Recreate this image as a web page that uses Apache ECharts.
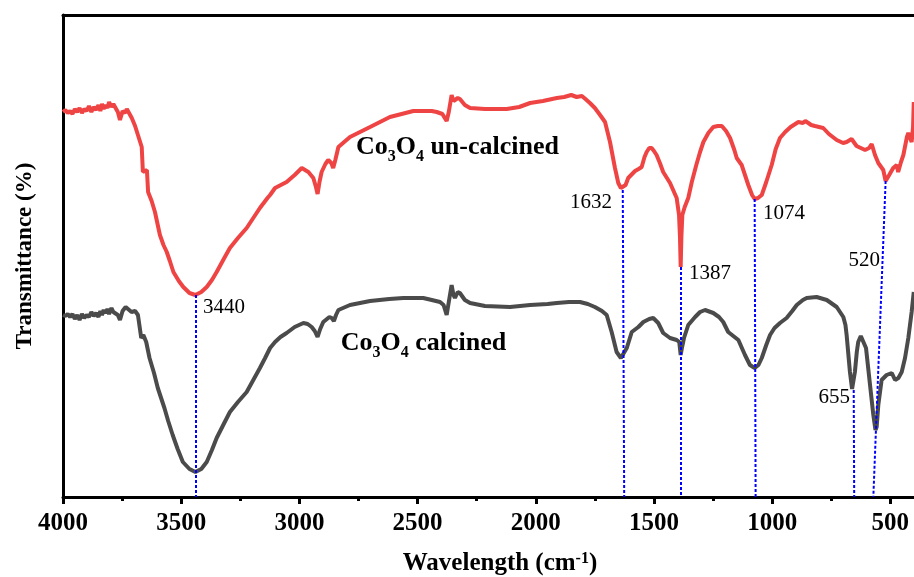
<!DOCTYPE html>
<html>
<head>
<meta charset="utf-8">
<script src="https://cdn.jsdelivr.net/npm/echarts@6/dist/echarts.min.js"></script>
<style>html,body{margin:0;padding:0;background:#fff}#c{width:914px;height:577px}</style>
</head>
<body>
<div id="c"></div>
<script>
// ---- data ----
const majorTicks = [4000, 3500, 3000, 2500, 2000, 1500, 1000, 500];
const minorTicks = [3750, 3250, 2750, 2250, 1750, 1250, 750];

const uncalcined = [
[4000,385],[3990,387],[3980,384],[3970,386],[3960,383],[3950,388],[3940,385],[3930,389],[3920,384],[3910,388],
[3900,386],[3890,391],[3880,385],[3870,390],[3860,387],[3850,392],[3842,386],[3835,393],[3828,388],[3820,392],
[3812,389],[3805,395],[3795,390],[3787,393],[3780,391],[3768,385],[3759,377],[3748,386],[3738,384],[3730,388],
[3709,379],[3695,371],[3683,362],[3667,350],[3662,325],[3645,327],[3640,305],[3625,296],[3611,285],[3590,262],
[3575,252],[3561,245],[3548,236],[3533,225],[3510,216],[3491,210],[3465,204],[3440,202],[3415,205],[3392,210],
[3370,217],[3350,225],[3320,238],[3294,249],[3260,259],[3223,269],[3195,279],[3167,289],[3135,299],[3124,302],
[3103,309],[3054,315],[3020,322],[2990,329],[2962,325],[2941,319],[2930,310],[2923,303],[2915,315],[2906,325],
[2890,333],[2878,337],[2865,334],[2857,329],[2848,337],[2835,350],[2786,360],[2701,370],[2617,380],[2518,386],
[2440,386],[2419,385],[2395,383],[2385,379],[2377,376],[2368,385],[2356,402],[2348,396],[2342,394],[2330,399],
[2321,398],[2300,392],[2278,389],[2215,388],[2123,388],[2070,390],[2024,394],[1970,396],[1911,399],[1880,400],
[1850,402],[1827,400],[1805,401],[1790,398],[1771,394],[1750,389],[1728,382],[1707,375],[1686,355],[1665,329],
[1651,314],[1640,309],[1632,307],[1620,312],[1609,319],[1580,326],[1565,328],[1552,330],[1540,340],[1531,345],
[1520,349],[1510,349],[1500,346],[1489,342],[1475,334],[1461,325],[1432,314],[1404,299],[1394,282],[1390,260],
[1387,230],[1384,260],[1380,282],[1370,290],[1355,299],[1340,315],[1321,332],[1305,345],[1291,355],[1270,364],
[1249,370],[1230,371],[1213,371],[1195,366],[1178,359],[1160,347],[1150,339],[1129,332],[1115,322],[1101,312],
[1085,302],[1074,298],[1060,299],[1044,302],[1025,315],[1002,332],[985,348],[967,359],[945,365],[922,370],
[889,375],[870,374],[860,376],[847,374],[835,372],[819,371],[784,369],[760,363],[727,357],[700,354],
[685,355],[664,358],[652,354],[643,351],[625,349],[607,347],[590,349],[579,353],[565,342],[551,334],
[530,327],[520,316],[505,322],[488,329],[473,332],[467,325],[455,335],[445,342],[430,360],[424,364],
[416,362],[410,355],[404,370],[401,395]
];

const calcined = [
[4000,182],[3990,181],[3980,183],[3970,180],[3960,183],[3950,178],[3940,182],[3930,177],[3920,183],[3910,179],
[3900,182],[3890,180],[3880,185],[3870,181],[3860,184],[3850,180],[3842,186],[3835,182],[3828,187],[3820,184],
[3812,188],[3805,183],[3795,189],[3787,185],[3780,187],[3768,182],[3759,177],[3748,186],[3735,190],[3725,188],
[3710,185],[3695,186],[3683,182],[3669,159],[3660,162],[3648,155],[3634,139],[3615,124],[3599,109],
[3585,99],[3571,89],[3555,76],[3536,62],[3515,48],[3493,35],[3465,28],[3440,25],[3415,28],[3392,35],
[3370,47],[3350,59],[3320,73],[3294,85],[3260,95],[3223,105],[3195,117],[3167,129],[3145,139],[3124,149],
[3103,155],[3080,160],[3054,164],[3020,170],[2983,174],[2965,173],[2948,170],[2935,166],[2923,160],[2912,168],
[2899,175],[2873,180],[2863,179],[2854,176],[2845,182],[2835,187],[2786,192],[2701,196],[2620,198],[2560,199],
[2476,199],[2440,197],[2405,195],[2390,192],[2377,182],[2368,195],[2356,212],[2348,202],[2342,199],[2330,205],
[2321,204],[2300,197],[2278,194],[2215,191],[2109,190],[2024,192],[1950,193],[1911,194],[1860,195],[1813,195],
[1780,193],[1750,190],[1720,186],[1700,182],[1679,165],[1658,145],[1640,139],[1632,138],[1615,149],[1594,165],
[1566,170],[1545,175],[1520,178],[1503,179],[1482,174],[1461,164],[1432,159],[1404,157],[1393,155],[1387,142],
[1381,150],[1373,159],[1355,172],[1326,180],[1305,185],[1284,187],[1249,184],[1225,180],[1207,175],[1186,165],
[1143,157],[1115,142],[1094,132],[1074,129],[1058,132],[1044,139],[1025,152],[1009,162],[990,169],[967,174],
[939,179],[915,186],[896,192],[870,197],[854,199],[812,200],[769,197],[727,190],[699,180],[690,172],
[685,162],[671,125],[662,108],[655,107],[650,125],[642,145],[636,155],[625,161],[619,160],[603,149],
[586,112],[572,82],[563,67],[558,70],[551,92],[537,117],[516,122],[494,124],[480,117],[466,119],
[452,125],[438,139],[424,159],[410,185],[401,205]
];

const peakNames = ['3440', '1632', '1387', '1074', '655', '520'];
const peakTop = [[3440,202],[1632,307],[1387,230],[1074,298],[655,107],[520,316]];
const peakBottom = [[3440,0],[1626,0],[1387,0],[1070,0],[653,0],[572,0]];

// ---- layout (data-coordinate anchors for text) ----
const peakLabelAnchor = [[3408,189.5,'left'],[1678,295,'right'],[1352,223.5,'left'],[1039,283.5,'left'],[671,99.5,'right'],[544,237,'right']];
const seriesLabelAnchor = {uncalcined:[2761,362.6], calcined:[2825,166.6]};

const SERIF = "'Liberation Serif','Times New Roman',serif";
const richName = {
  m: {fontFamily: SERIF, fontWeight: 'bold', fontSize: 26, lineHeight: 26, verticalAlign: 'top', color: '#000'},
  s: {fontFamily: SERIF, fontWeight: 'bold', fontSize: 16, lineHeight: 16, verticalAlign: 'top', padding: [14,0,0,0], color: '#000'}
};

const chart = echarts.init(document.getElementById('c'), null, {renderer: 'canvas'});

const markLines = peakTop.map((p, i) => [{coord: p}, {coord: peakBottom[i]}]);
const peakPoints = peakNames.map((n, i) => ({
  coord: [peakLabelAnchor[i][0], peakLabelAnchor[i][1]],
  symbol: 'circle', symbolSize: 0,
  label: {show: true, formatter: n, position: 'inside', align: peakLabelAnchor[i][2], verticalAlign: 'middle',
    fontFamily: SERIF, fontSize: 21, color: '#000'}
}));
const namePoints = [
  {coord: seriesLabelAnchor.uncalcined, symbol: 'circle', symbolSize: 0,
   label: {show: true, position: 'inside', align: 'left', verticalAlign: 'top',
     formatter: '{m|Co}{s|3}{m|O}{s|4}{m| un-calcined}', rich: richName}},
  {coord: seriesLabelAnchor.calcined, symbol: 'circle', symbolSize: 0,
   label: {show: true, position: 'inside', align: 'left', verticalAlign: 'top',
     formatter: '{m|Co}{s|3}{m|O}{s|4}{m| calcined}', rich: richName}}
];

const xCommon = {type: 'value', min: 400, max: 4000, inverse: true, splitLine: {show: false}};

chart.setOption({
  animation: false,
  backgroundColor: '#fff',
  grid: {left: 63, right: 0, top: 15, bottom: 80, outerBoundsMode: 'none', containLabel: false},
  xAxis: [
    Object.assign({}, xCommon, {
      position: 'bottom',
      name: '{a|Wavelength (cm}{sup|-1}{a|)}',
      nameLocation: 'middle', nameGap: 54,
      nameTextStyle: {padding: [0,0,0,23], rich: {
        a: {fontFamily: SERIF, fontWeight: 'bold', fontSize: 25, lineHeight: 26, verticalAlign: 'top', color: '#000'},
        sup: {fontFamily: SERIF, fontWeight: 'bold', fontSize: 16, lineHeight: 16, verticalAlign: 'top', color: '#000'}
      }},
      axisLine: {show: true, onZero: false, lineStyle: {color: '#000', width: 3}},
      axisTick: {show: true, inside: false, length: 7, lineStyle: {color: '#000', width: 3}, customValues: majorTicks},
      minorTick: {show: false},
      axisLabel: {show: true, margin: 14, customValues: majorTicks, formatter: v => String(v),
        fontFamily: SERIF, fontWeight: 'bold', fontSize: 25, color: '#000'}
    }),
    Object.assign({}, xCommon, {
      position: 'top',
      axisLine: {show: true, onZero: false, lineStyle: {color: '#000', width: 3}},
      axisTick: {show: false}, axisLabel: {show: false}
    }),
    Object.assign({}, xCommon, {
      position: 'bottom', offset: 0,
      axisLine: {show: false, onZero: false},
      axisTick: {show: true, inside: false, length: 4, lineStyle: {color: '#000', width: 3}, customValues: minorTicks},
      axisLabel: {show: false}
    })
  ],
  yAxis: {
    type: 'value', min: 0, max: 482,
    name: 'Transmittance (%)', nameLocation: 'middle', nameGap: 26, nameRotate: 90,
    nameTextStyle: {fontFamily: SERIF, fontWeight: 'bold', fontSize: 23, color: '#000', padding: [0,0,0,0]},
    axisLine: {show: true, onZero: false, lineStyle: {color: '#000', width: 3}},
    axisTick: {show: false}, axisLabel: {show: false}, splitLine: {show: false}
  },
  series: [
    {name: 'Co3O4 un-calcined', type: 'line', xAxisIndex: 0, data: uncalcined, showSymbol: false, symbol: 'none',
     lineStyle: {color: '#ef4444', width: 4}, itemStyle: {color: '#ef4444'}, z: 2},
    {name: 'Co3O4 calcined', type: 'line', xAxisIndex: 0, data: calcined, showSymbol: false, symbol: 'none',
     lineStyle: {color: '#4b4b4b', width: 4}, itemStyle: {color: '#4b4b4b'}, z: 2},
    {name: 'peaks', type: 'line', xAxisIndex: 0, data: [], z: 5,
     markLine: {silent: true, symbol: ['none','none'], animation: false, label: {show: false},
       lineStyle: {color: '#0000ff', width: 2, type: [3,2]}, data: markLines},
     markPoint: {silent: true, animation: false, data: peakPoints.concat(namePoints)}}
  ]
});
</script>
</body>
</html>
